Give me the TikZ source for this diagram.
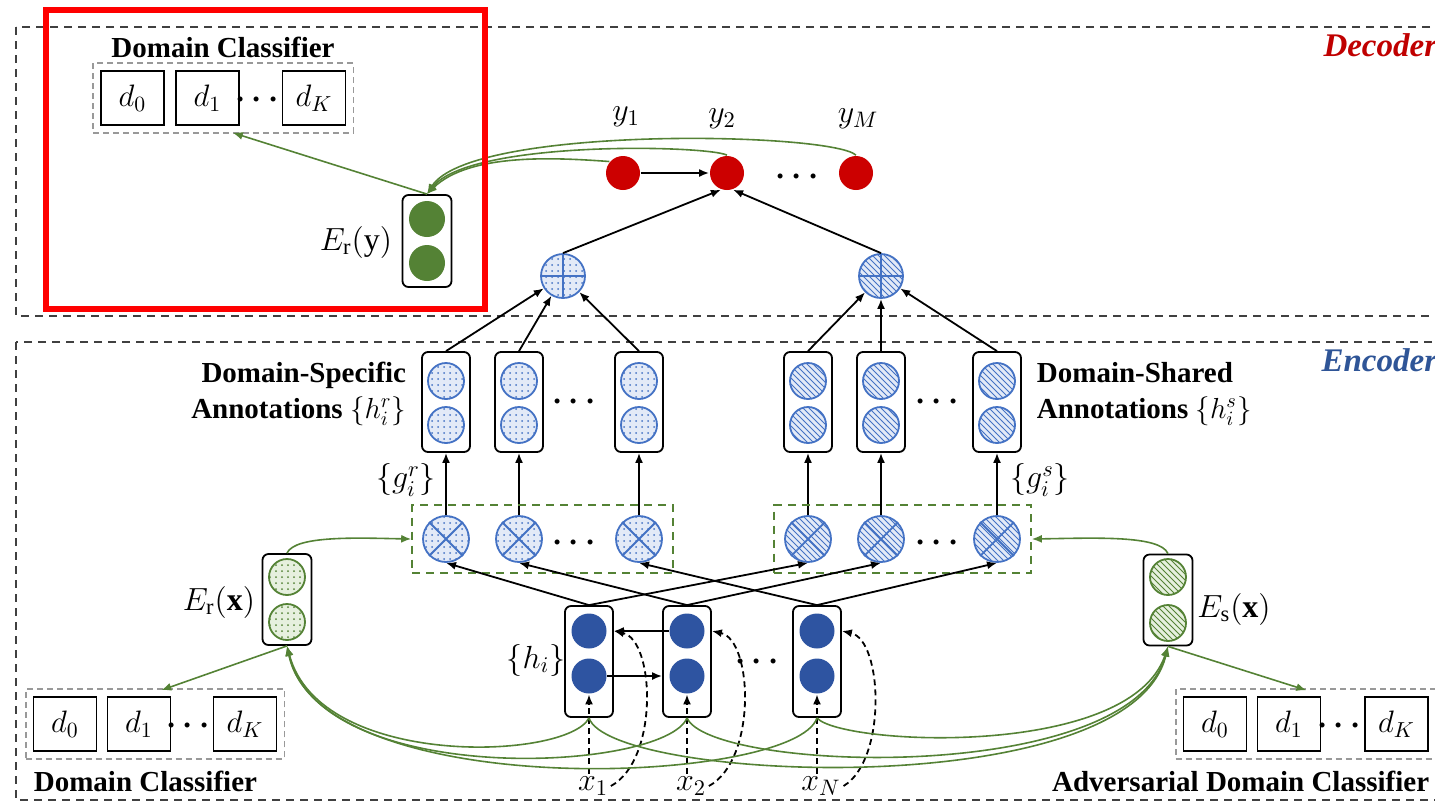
\documentclass[tikz,border=0pt]{standalone}
\usepackage{fix-cm}
\usepackage{amsmath}
\usepackage{fontspec}
\setmainfont{Liberation Serif}
\usetikzlibrary{arrows.meta}
\usetikzlibrary{patterns}
\usetikzlibrary{fit,calc,positioning}
\definecolor{yred}{HTML}{CC0000}
\definecolor{decred}{HTML}{C00000}
\definecolor{encblue}{HTML}{2F5597}
\definecolor{hblue}{HTML}{2E54A1}
\definecolor{cedge}{HTML}{4472C4}
\definecolor{cfill}{HTML}{E3EAF7}
\definecolor{ggreen}{HTML}{548235}
\definecolor{gfill}{HTML}{E6F0DE}
\tikzset{
	part frame/.style={draw=black!75, line width=0.8pt, dash pattern=on 4pt off 3pt},
	part title/.style={font=\fontsize{16.5}{18}\selectfont\bfseries\itshape, inner sep=1pt},
	title/.style={font=\fontsize{14.5}{18}\selectfont\bfseries, inner sep=1pt},
	mlabel/.style={font=\fontsize{16}{18}\selectfont, inner sep=1pt},
	dots label/.style={font=\fontsize{16}{18}\selectfont\boldmath, inner sep=0pt},
	red node/.style={circle, fill=yred, minimum size=17pt, inner sep=0pt},
	h node/.style={circle, fill=hblue, minimum size=17.5pt, inner sep=0pt},
	g node/.style={circle, fill=ggreen, minimum size=18pt, inner sep=0pt},
	vec box/.style={draw, rounded corners=3pt, line width=0.9pt, minimum width=24pt, inner sep=0pt},
	dot circle/.style={circle, draw=cedge, line width=0.9pt, preaction={fill=cfill},
		pattern=dots, pattern color=cedge, inner sep=0pt},
	hatch circle/.style={circle, draw=cedge, line width=0.9pt, preaction={fill=cfill},
		pattern=north west lines, pattern color=cedge, inner sep=0pt},
	gdot circle/.style={circle, draw=ggreen, line width=0.9pt, preaction={fill=gfill},
		pattern=dots, pattern color=ggreen, minimum size=18pt, inner sep=0pt},
	ghatch circle/.style={circle, draw=ggreen, line width=0.9pt, preaction={fill=gfill},
		pattern=north west lines, pattern color=ggreen, minimum size=18pt, inner sep=0pt},
	d box/.style={draw, line width=0.8pt, minimum width=31.5pt, minimum height=27pt,
		inner sep=0pt, font=\fontsize{15.5}{17}\selectfont},
	cls box/.style={draw=black!40, line width=0.8pt, dash pattern=on 3pt off 2pt, inner sep=3.5pt},
	gate box/.style={draw=ggreen, line width=0.9pt, dash pattern=on 4pt off 3pt, inner sep=5pt},
	green arrow/.style={->, draw=ggreen, line width=0.8pt}
}

\begin{document}
\begin{tikzpicture}[x=0.5pt,y=-0.5pt,>={Latex[length=5pt,width=4pt]},line width=0.9pt]
	\useasboundingbox (0,0) rectangle (1435,805);
	\clip (0,0) rectangle (1435,805);
	% frames
	\draw[part frame] (16,27) rectangle (1470,316);
	\draw[part frame] (16,342) rectangle (1470,800);
	\node[part title, text=decred, anchor=east] (dec) at (1440,45) {Decoder};
	\node[part title, text=encblue, anchor=east] (enc) at (1440,360) {Encoder};

	% decoder outputs
	\node[red node] (y1) at (623,173) {};
	\node[red node] (y2) at (727,173) {};
	\node[red node] (yM) at (856,173) {};
	\node[dots label] (dy) at (800,177) {$\cdots$};
	\node[mlabel] (ly1) at (626,117) {$y_1$};
	\node[mlabel] (ly2) at (722,119) {$y_2$};
	\node[mlabel] (lyM) at (858,119) {$y_M$};
	\draw[->] (y1) -- (y2);

	% combination of both annotations
	\node[dot circle, minimum size=22pt] (sL) at (563,276) {};
	\node[hatch circle, minimum size=22pt] (sR) at (881,276) {};
	\foreach \s in {sL,sR}
		\draw[cedge] (\s.north) -- (\s.south) (\s.west) -- (\s.east);
	\draw[->] (sL.north) -- (y2.250);
	\draw[->] (sR.north) -- (y2.290);

	% annotations and gates
	\foreach \i/\x in {1/446,2/519,3/639}{
		\node[vec box, minimum height=50pt] (a\i) at (\x,402) {};
		\node[dot circle, minimum size=18pt] (at\i) at (\x,381) {};
		\node[dot circle, minimum size=18pt] (ab\i) at (\x,425) {};
		\node[dot circle, minimum size=23pt] (g\i) at (\x,539) {};
		\draw[cedge] (g\i.north east) -- (g\i.south west) (g\i.north west) -- (g\i.south east);
		\draw[->] (g\i) -- (a\i);
		\draw[->] (a\i.north) -- (sL);
	}
	\foreach \i/\x in {4/808,5/881,6/997}{
		\node[vec box, minimum height=50pt] (a\i) at (\x,402) {};
		\node[hatch circle, minimum size=18pt] (at\i) at (\x,381) {};
		\node[hatch circle, minimum size=18pt] (ab\i) at (\x,425) {};
		\node[hatch circle, minimum size=23pt] (g\i) at (\x,539) {};
		\draw[cedge] (g\i.north east) -- (g\i.south west) (g\i.north west) -- (g\i.south east);
		\draw[->] (g\i) -- (a\i);
		\draw[->] (a\i.north) -- (sR);
	}
	\node[dots label] (da1) at (577,402) {$\cdots$};
	\node[dots label] (da2) at (940,402) {$\cdots$};
	\node[dots label] (dg1) at (577,543) {$\cdots$};
	\node[dots label] (dg2) at (940,543) {$\cdots$};
	\node[fit=(g1)(g3), gate box] (gr) {};
	\node[fit=(g4)(g6), gate box] (gs) {};
	\node[title, align=right, anchor=east] (lhr) at (409,394) {Domain-Specific\\Annotations $\{h_i^r\}$};
	\node[title, align=left, anchor=west] (lhs) at (1034,394) {Domain-Shared\\Annotations $\{h_i^s\}$};
	\node[mlabel] (lgr) at (406,480) {$\{g_i^r\}$};
	\node[mlabel] (lgs) at (1040,480) {$\{g_i^s\}$};

	% encoder states
	\foreach \i/\x in {1/589,2/687,N/817}{
		\node[vec box, minimum height=55.5pt] (h\i) at (\x,661.5) {};
		\node[h node] (ht\i) at (\x,631) {};
		\node[h node] (hb\i) at (\x,676) {};
		\node[mlabel] (x\i) at (\x+4,786) {$x_\i$};
		\draw[dash pattern=on 3pt off 2pt,->] (x\i.north -| hb\i) -- (hb\i);
		\draw[dash pattern=on 3pt off 2pt,->] (x\i.east) .. controls (\x+70,760) and (\x+66,640) .. (ht\i -| h\i.east);
	}
	\draw[->] (ht2) -- (ht2 -| h1.east);
	\draw[->] (hb1) -- (hb1 -| h2.west);
	\node[mlabel] (lh) at (536,660) {$\{h_i\}$};
	\node[dots label] (dh) at (760,662) {$\cdots$};
	\draw[->] (h1.north) -- (g1.south);
	\draw[->] (h1.north) -- (g4.south);
	\draw[->] (h2.north) -- (g2.south);
	\draw[->] (h2.north) -- (g5.south);
	\draw[->] (hN.north) -- (g3.south);
	\draw[->] (hN.north) -- (g6.south);

	% domain encodings of the source
	\node[vec box, minimum width=24.5pt, minimum height=45.5pt] (erx) at (287,599.5) {};
	\node[gdot circle] (erxt) at (287,577) {};
	\node[gdot circle] (erxb) at (287,622) {};
	\node[mlabel] (lerx) at (219,602) {$E_{\mathrm{r}}(\mathbf{x})$};
	\node[vec box, minimum width=24.5pt, minimum height=45.5pt] (esx) at (1168,600) {};
	\node[ghatch circle] (esxt) at (1168,577) {};
	\node[ghatch circle] (esxb) at (1168,623) {};
	\node[mlabel] (lesx) at (1234,609) {$E_{\mathrm{s}}(\mathbf{x})$};
	\draw[green arrow] (erx.north) .. controls (295,535) and (360,538) .. (gr.west);
	\draw[green arrow] (esx.north) .. controls (1160,535) and (1095,538) .. (gs.east);
	\draw[green arrow] (h1.south) .. controls (568,760) and (320,770) .. (erx.south);
	\draw[green arrow] (h2.south) .. controls (665,772) and (320,790) .. (erx.south);
	\draw[green arrow] (hN.south) .. controls (795,785) and (320,805) .. (erx.south);
	\draw[green arrow] (hN.south) .. controls (840,745) and (1130,760) .. (esx.south);
	\draw[green arrow] (h2.south) .. controls (710,772) and (1130,787) .. (esx.south);
	\draw[green arrow] (h1.south) .. controls (610,782) and (1130,805) .. (esx.south);

	% classifiers of the encoder
	\node[d box] (dL0) at (65,724) {$d_0$};
	\node[d box] (dL1) at (139,724) {$d_1$};
	\node[dots label] (dLd) at (191,726) {$\cdots$};
	\node[d box] (dLK) at (245,724) {$d_K$};
	\node[fit=(dL0)(dLK), cls box] (dclL) {};
	\node[title, anchor=west] (tL) at (31,781) {Domain Classifier};
	\node[d box] (dR0) at (1215,724) {$d_0$};
	\node[d box] (dR1) at (1289,724) {$d_1$};
	\node[dots label] (dRd) at (1342,726) {$\cdots$};
	\node[d box] (dRK) at (1396.5,724) {$d_K$};
	\node[fit=(dR0)(dRK), cls box] (dclR) {};
	\node[title, anchor=east] (tR) at (1432,781) {Adversarial Domain Classifier};
	\draw[green arrow] (erx.south) -- ($(dL1.north east)+(-10,-6)$);
	\draw[green arrow] (esx.south) -- ($(dR1.north east)+(-15,-6)$);

	% classifier of the decoder
	\node[d box] (dT0) at (132.5,98) {$d_0$};
	\node[d box] (dT1) at (207.5,98) {$d_1$};
	\node[dots label] (dTd) at (260,100) {$\cdots$};
	\node[d box] (dTK) at (314,98) {$d_K$};
	\node[fit=(dT0)(dTK), cls box] (dclT) {};
	\node[title] (tT) at (223,47) {Domain Classifier};
	\node[vec box, minimum width=24.5pt, minimum height=46pt] (ery) at (427,241) {};
	\node[g node] (eryt) at (427,219) {};
	\node[g node] (eryb) at (427,263) {};
	\node[mlabel] (lery) at (356,242) {$E_{\mathrm{r}}(\mathrm{y})$};
	\draw[green arrow] (ery.north) -- ($(dT1.south east)+(-7,7)$);
	\draw[green arrow] (yM.north) .. controls (830,132) and (470,125) .. (ery.north);
	\draw[green arrow] (y2.north) .. controls (705,145) and (470,140) .. (ery.north);
	\draw[green arrow] (y1.140) .. controls (560,158) and (470,152) .. (ery.north);

	% highlighted part
	\draw[red, line width=3pt] (46,10) rectangle (485,309);
\end{tikzpicture}
\end{document}
